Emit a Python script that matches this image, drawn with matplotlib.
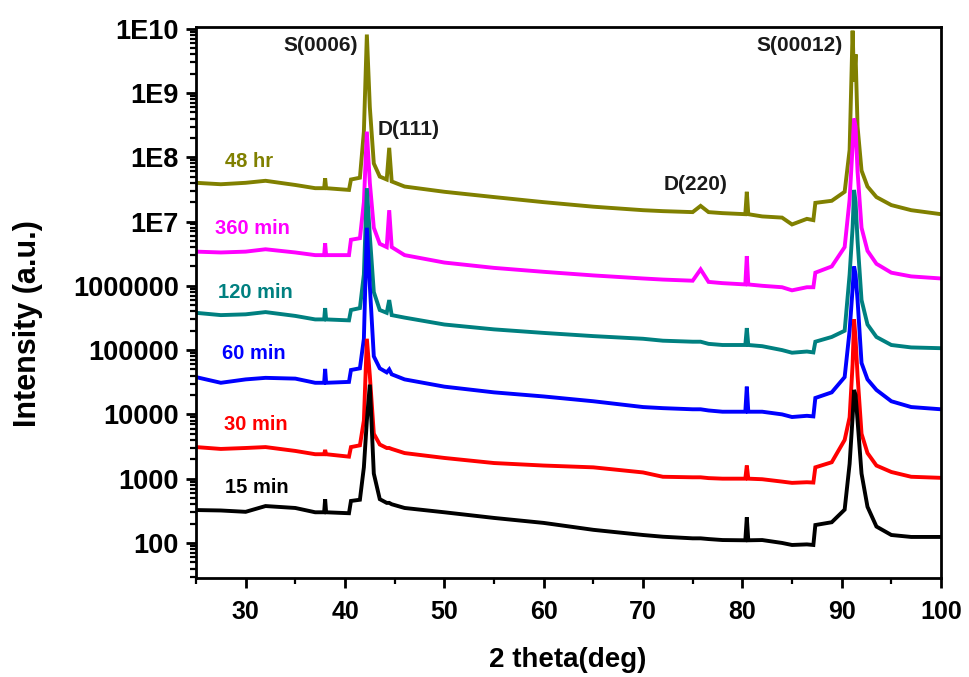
import matplotlib
matplotlib.use("Agg")
import matplotlib.pyplot as plt
from matplotlib.ticker import FixedLocator, LogLocator, NullFormatter, MultipleLocator

plt.rcParams['font.family'] = ['Liberation Sans', 'DejaVu Sans']
plt.rcParams['font.weight'] = 'bold'

# ---- data ----
two_theta = [25, 27.5, 30, 32, 35, 37, 37.9, 38.0, 38.1, 40.4, 40.6, 41.5, 41.9, 42.2, 42.5,
             42.9, 43.5, 44.2, 44.45, 44.7, 46, 50, 55, 60, 65, 70, 72, 75, 75.8, 76.6,
             78, 80.3, 80.45, 80.6, 82, 84, 85, 86.5, 87.15, 87.35, 89, 90.3, 90.8, 91.1,
             91.25, 91.4, 91.6, 92.0, 92.6, 93.5, 95, 97, 100]

i_15min = [325, 320, 305, 375, 350, 300, 300, 480, 300, 290, 450, 470, 1500, 8000, 29000,
           1200, 480, 420, 420, 400, 350, 300, 245, 205, 160, 133, 125, 118, 118, 115,
           111, 110, 250, 110, 111, 100, 93, 95, 93, 190, 210, 330, 1700, 9000,
           24000, 20000, 8000, 1200, 365, 180, 133, 124, 124]

i_30min = [3100, 2900, 3000, 3100, 2700, 2400, 2400, 2800, 2400, 2200, 3100, 3300, 8000, 150000, 40000,
           5000, 3400, 3000, 3000, 2900, 2500, 2100, 1750, 1600, 1500, 1250, 1070, 1050, 1050, 1020,
           1000, 1000, 1600, 1000, 980, 900, 860, 880, 870, 1500, 1800, 4000, 9000, 60000,
           300000, 150000, 40000, 5000, 2500, 1600, 1270, 1070, 1030]

i_60min = [38000, 31000, 35000, 37000, 36000, 31000, 31000, 51000, 31000, 32000, 49000, 52000, 150000, 8000000, 1000000,
           80000, 52000, 45000, 50000, 42000, 35000, 27000, 22000, 19000, 16000, 13000, 12500, 12000, 12000, 11500,
           11000, 11000, 27000, 11000, 11000, 10000, 9100, 9500, 9300, 18000, 22000, 38000, 200000, 900000,
           2000000, 1500000, 600000, 63000, 35000, 24000, 16000, 13000, 12000]

i_120min = [380000, 350000, 360000, 390000, 340000, 300000, 300000, 450000, 300000, 290000, 420000, 450000, 1500000, 33000000, 6000000,
            800000, 420000, 380000, 600000, 350000, 320000, 250000, 210000, 185000, 165000, 150000, 140000, 135000, 135000, 125000,
            120000, 120000, 220000, 120000, 115000, 100000, 91000, 95000, 92000, 135000, 160000, 200000, 1500000, 8000000,
            31000000, 20000000, 5000000, 600000, 250000, 160000, 120000, 110000, 107000]

i_360min = [3.4e6, 3.3e6, 3.4e6, 3.7e6, 3.3e6, 3.0e6, 3.0e6, 4.6e6, 3.0e6, 3.0e6, 5.2e6, 5.5e6, 2.0e7, 2.5e8, 4.0e7,
            8.0e6, 4.5e6, 4.0e6, 1.5e7, 4.0e6, 3.0e6, 2.3e6, 1.9e6, 1.65e6, 1.45e6, 1.3e6, 1.25e6, 1.2e6, 1.8e6, 1.15e6,
            1.1e6, 1.05e6, 2.9e6, 1.05e6, 1.0e6, 9.5e5, 8.5e5, 9.5e5, 9.5e5, 1.6e6, 2.0e6, 4.0e6, 2.2e7, 1.5e8,
            4.0e8, 3.0e8, 6.0e7, 8.0e6, 3.5e6, 2.2e6, 1.6e6, 1.4e6, 1.3e6]

i_48hr = [4.0e7, 3.8e7, 4.0e7, 4.3e7, 3.7e7, 3.3e7, 3.3e7, 4.7e7, 3.3e7, 3.1e7, 4.5e7, 4.8e7, 2.5e8, 8.1e9, 6.0e8,
          8.0e7, 5.0e7, 4.5e7, 1.4e8, 4.2e7, 3.5e7, 2.9e7, 2.4e7, 2.0e7, 1.7e7, 1.5e7, 1.45e7, 1.4e7, 1.75e7, 1.4e7,
          1.35e7, 1.3e7, 2.9e7, 1.3e7, 1.2e7, 1.15e7, 9.0e6, 1.1e7, 1.05e7, 1.95e7, 2.1e7, 2.9e7, 1.3e8, 9.3e9,
          1.5e9, 4.0e9, 3.0e8, 6.2e7, 3.5e7, 2.4e7, 1.8e7, 1.5e7, 1.3e7]

series_names = ["48 hr", "360 min", "120 min", "60 min", "30 min", "15 min"]
series_values = [i_48hr, i_360min, i_120min, i_60min, i_30min, i_15min]
series_colors = ["#808000", "#ff00ff", "#008080", "#0000ff", "#ff0000", "#000000"]
label_pos = [(27.9, 8.5e7), (26.9, 7.8e6), (27.2, 7.8e5), (27.6, 8.7e4), (27.8, 6.9e3), (27.9, 7.2e2)]

peak_labels = ["S(0006)", "D(111)", "D(220)", "S(00012)"]
peak_pos = [(37.6, 5.4e9), (46.4, 2.7e8), (75.3, 3.7e7), (85.8, 5.4e9)]

y_ticks = [1e2, 1e3, 1e4, 1e5, 1e6, 1e7, 1e8, 1e9, 1e10]
y_tick_labels = ["100", "1000", "10000", "100000", "1000000", "1E7", "1E8", "1E9", "1E10"]
x_ticks = [30, 40, 50, 60, 70, 80, 90, 100]

# ---- figure ----
fig = plt.figure(figsize=(9.7, 6.77), dpi=100)
ax = fig.add_axes([196/970, 1 - 578/677, (941-196)/970, (578-26.5)/677])

for name, vals, col, (lx, ly) in zip(series_names, series_values, series_colors, label_pos):
    ax.plot(two_theta, vals, color=col, lw=2.8, solid_joinstyle='miter')
    ax.text(lx, ly, name, color=col, fontsize=14.5, fontweight='bold', ha='left', va='center')

for t, (px, py) in zip(peak_labels, peak_pos):
    ax.text(px, py, t, color='#1a1a1a', fontsize=15, fontweight='bold', ha='center', va='center')

ax.set_yscale('log')
ax.set_xlim(25, 100)
ax.set_ylim(28.5, 1.08e10)
ax.yaxis.set_major_locator(FixedLocator(y_ticks))
ax.set_yticklabels(y_tick_labels)
ax.yaxis.set_minor_locator(LogLocator(base=10, subs=[2, 3, 4, 5, 6, 7, 8, 9], numticks=20))
ax.yaxis.set_minor_formatter(NullFormatter())
ax.xaxis.set_major_locator(FixedLocator(x_ticks))
ax.xaxis.set_minor_locator(MultipleLocator(5))

for sp in ax.spines.values():
    sp.set_linewidth(2.0)

ax.tick_params(axis='both', which='major', direction='out', length=7.5, width=2.0)
ax.tick_params(axis='x', which='major', labelsize=18, pad=8)
ax.tick_params(axis='y', which='major', labelsize=19.5, pad=5)
ax.tick_params(axis='both', which='minor', direction='out', length=4, width=1.6)
for lab in ax.get_xticklabels() + ax.get_yticklabels():
    lab.set_fontweight('bold')

fig.text(28/970, 1 - 324/677, "Intensity (a.u.)", fontsize=22, fontweight='bold',
         rotation=90, ha='center', va='center')
fig.text(568/970, 1 - 660/677, "2 theta(deg)", fontsize=20, fontweight='bold',
         ha='center', va='center')

fig.savefig("out.png", dpi=100)
